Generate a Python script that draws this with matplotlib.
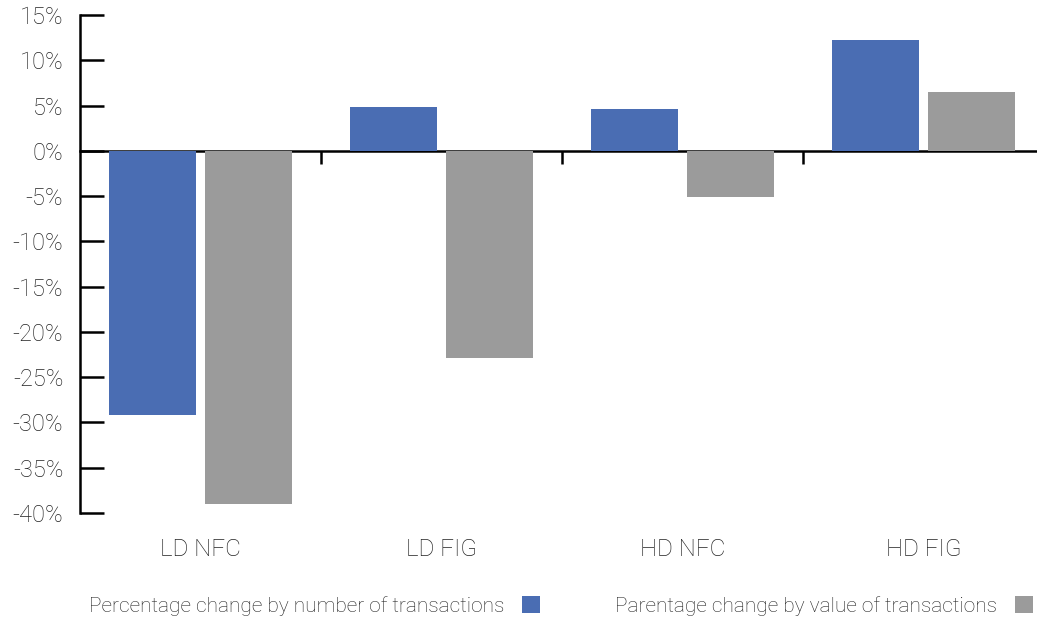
import matplotlib.pyplot as plt
import numpy as np

plt.rcParams['font.family'] = ['Roboto', 'DejaVu Sans']
plt.rcParams['font.weight'] = 'light'

# data
categories = ["LD NFC", "LD FIG", "HD NFC", "HD FIG"]
by_number = [-29.2, 4.8, 4.6, 12.2]
by_value = [-39.0, -22.9, -5.1, 6.5]
series_labels = ["Percentage change by number of transactions",
                 "Parentage change by value of transactions"]
yticks = list(range(-40, 20, 5))

blue = "#4a6db3"
grey = "#9b9b9b"
txt = "#222222"

fig = plt.figure(figsize=(10.37, 6.19), dpi=100)
ax = fig.add_axes([80 / 1037, 1 - 513 / 619, 964 / 1037, 498 / 619])

x = np.arange(len(categories))
b1 = ax.bar(x - 0.2, by_number, width=0.36, color=blue, zorder=3)
b2 = ax.bar(x + 0.2, by_value, width=0.36, color=grey, zorder=3)

ax.set_xlim(-0.5, len(categories) - 0.5)
ax.set_ylim(-40, 15)

# y axis
ax.spines['left'].set_linewidth(1.8)
ax.spines['left'].set_bounds(-40, 15)
ax.set_yticks(yticks)
ax.set_yticklabels([f"{v}%" for v in yticks], fontsize=17, color=txt)
ax.tick_params(axis='y', direction='in', length=17, width=1.8, pad=12)

# x axis sits at zero
ax.spines['bottom'].set_position(('data', 0))
ax.spines['bottom'].set_linewidth(1.8)
ax.spines['bottom'].set_zorder(2)
ax.set_xticks(x[:-1] + 0.5)
ax.set_xticklabels([])
ax.tick_params(axis='x', direction='out', length=9, width=1.8)
for s in ['top', 'right']:
    ax.spines[s].set_visible(False)

for xi, c in zip(x, categories):
    ax.text(xi, -44.0, c, ha='center', va='center', fontsize=17.5, color=txt)

fig.legend([b1, b2], series_labels, ncol=2, markerfirst=False, frameon=False,
           loc='center', bbox_to_anchor=(0.541, 0.021), fontsize=15,
           handlelength=0.87, handleheight=0.87, handletextpad=0.87,
           columnspacing=3.6, labelcolor=txt)

fig.savefig("out.png", dpi=100)
